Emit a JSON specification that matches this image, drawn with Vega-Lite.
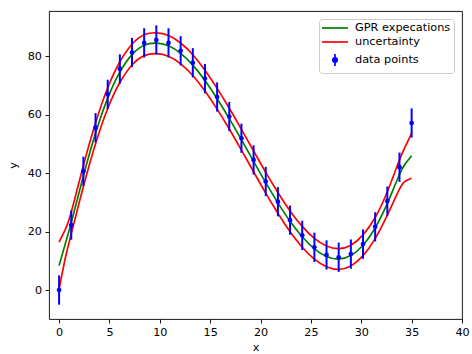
{
  "$schema": "https://vega.github.io/schema/vega-lite/v6.json",
  "width": 413,
  "height": 308,
  "autosize": {"type": "none"},
  "padding": {"left": 49, "top": 11, "right": 10, "bottom": 35},
  "background": "white",
  "datasets": {
    "curve": [
      {"x": 0, "mean": 8.35, "upper": 16.4, "lower": 0.3},
      {"x": 0.6, "mean": 15.6, "upper": 20.6, "lower": 10.6},
      {"x": 1.207, "mean": 23.0, "upper": 26.6, "lower": 19.2},
      {"x": 2.414, "mean": 39.0, "upper": 42.6, "lower": 35.4},
      {"x": 3.621, "mean": 53.6, "upper": 57.15, "lower": 50.05},
      {"x": 4.828, "mean": 65.6, "upper": 69.15, "lower": 62.05},
      {"x": 6.034, "mean": 74.5, "upper": 78.05, "lower": 70.95},
      {"x": 7.241, "mean": 80.5, "upper": 84.05, "lower": 76.95},
      {"x": 8.448, "mean": 83.7, "upper": 87.25, "lower": 80.15},
      {"x": 9.655, "mean": 84.4, "upper": 87.95, "lower": 80.85},
      {"x": 10.862, "mean": 83.5, "upper": 87.05, "lower": 79.95},
      {"x": 12.069, "mean": 80.9, "upper": 84.45, "lower": 77.35},
      {"x": 13.276, "mean": 76.9, "upper": 80.45, "lower": 73.35},
      {"x": 14.483, "mean": 71.6, "upper": 75.15, "lower": 68.05},
      {"x": 15.69, "mean": 65.4, "upper": 68.95, "lower": 61.85},
      {"x": 16.897, "mean": 58.6, "upper": 62.15, "lower": 55.05},
      {"x": 18.103, "mean": 51.4, "upper": 54.95, "lower": 47.85},
      {"x": 19.31, "mean": 44.0, "upper": 47.55, "lower": 40.45},
      {"x": 20.517, "mean": 36.7, "upper": 40.25, "lower": 33.15},
      {"x": 21.724, "mean": 29.8, "upper": 33.35, "lower": 26.25},
      {"x": 22.931, "mean": 23.5, "upper": 27.05, "lower": 19.95},
      {"x": 24.138, "mean": 18.2, "upper": 21.75, "lower": 14.65},
      {"x": 25.345, "mean": 14.1, "upper": 17.65, "lower": 10.55},
      {"x": 26.552, "mean": 11.5, "upper": 15.05, "lower": 7.95},
      {"x": 27.759, "mean": 10.6, "upper": 14.15, "lower": 7.05},
      {"x": 28.966, "mean": 11.8, "upper": 15.35, "lower": 8.25},
      {"x": 30.172, "mean": 15.3, "upper": 18.85, "lower": 11.75},
      {"x": 31.379, "mean": 21.2, "upper": 24.8, "lower": 17.6},
      {"x": 32.586, "mean": 29.6, "upper": 33.6, "lower": 25.6},
      {"x": 33.793, "mean": 39.5, "upper": 44.5, "lower": 34.5},
      {"x": 34.4, "mean": 43.3, "upper": 49.3, "lower": 37.3},
      {"x": 35, "mean": 45.9, "upper": 53.6, "lower": 38.2}
    ],
    "pts": [
      {"x": 0, "y": 0.0, "err": 5},
      {"x": 1.207, "y": 22.2, "err": 5},
      {"x": 2.414, "y": 40.6, "err": 5},
      {"x": 3.621, "y": 55.5, "err": 5},
      {"x": 4.828, "y": 66.9, "err": 5},
      {"x": 6.034, "y": 75.6, "err": 5},
      {"x": 7.241, "y": 81.2, "err": 5},
      {"x": 8.448, "y": 84.5, "err": 5},
      {"x": 9.655, "y": 85.5, "err": 5},
      {"x": 10.862, "y": 84.5, "err": 5},
      {"x": 12.069, "y": 81.8, "err": 5},
      {"x": 13.276, "y": 77.7, "err": 5},
      {"x": 14.483, "y": 72.3, "err": 5},
      {"x": 15.69, "y": 66.0, "err": 5},
      {"x": 16.897, "y": 59.3, "err": 5},
      {"x": 18.103, "y": 51.9, "err": 5},
      {"x": 19.31, "y": 44.5, "err": 5},
      {"x": 20.517, "y": 37.1, "err": 5},
      {"x": 21.724, "y": 30.2, "err": 5},
      {"x": 22.931, "y": 23.9, "err": 5},
      {"x": 24.138, "y": 18.7, "err": 5},
      {"x": 25.345, "y": 14.6, "err": 5},
      {"x": 26.552, "y": 12.0, "err": 5},
      {"x": 27.759, "y": 11.2, "err": 5},
      {"x": 28.966, "y": 12.3, "err": 5},
      {"x": 30.172, "y": 15.7, "err": 5},
      {"x": 31.379, "y": 21.6, "err": 5},
      {"x": 32.586, "y": 30.4, "err": 5},
      {"x": 33.793, "y": 42.0, "err": 5},
      {"x": 35, "y": 57.1, "err": 5}
    ]
  },
  "layer": [
    {
      "data": {"name": "curve"},
      "mark": {"type": "line", "interpolate": "natural", "strokeWidth": 1.7},
      "encoding": {
        "x": {"field": "x", "type": "quantitative", "scale": {"domain": [-1, 40], "nice": false, "zero": false}, "axis": {"values": [0, 5, 10, 15, 20, 25, 30, 35, 40], "title": "x"}},
        "y": {"field": "mean", "type": "quantitative", "scale": {"domain": [-9.9, 95.4], "nice": false, "zero": false}, "axis": {"values": [0, 20, 40, 60, 80], "title": "y"}},
        "color": {
          "datum": "GPR expecations",
          "type": "nominal",
          "scale": {"domain": ["GPR expecations", "uncertainty", "data points"], "range": ["#008000", "#ff0000", "#0000ff"]},
          "legend": {
            "title": null,
            "orient": "top-right",
            "offset": 8,
            "padding": 3,
            "symbolType": "stroke",
            "symbolSize": 100,
            "symbolStrokeWidth": 1.7,
            "rowPadding": 2,
            "labelOffset": 21,
            "labelFontSize": 11.3,
            "labelFont": "DejaVu Sans",
            "labelColor": "black",
            "fillColor": "rgba(255,255,255,0.8)",
            "strokeColor": "#cccccc",
            "cornerRadius": 3,
            "encode": {
              "symbols": {
                "update": {
                  "shape": {"signal": "datum.value === 'data points' ? 'M1.4,-1.2L1.4,1.2M1.84,0A0.44,0.44,0,1,1,0.96,0A0.44,0.44,0,1,1,1.84,0Z' : 'M-1.2,0L4,0'"},
                  "fill": {"signal": "datum.value === 'data points' ? '#0000ff' : 'transparent'"},
                  "stroke": {"scale": "color", "field": "value"},
                  "strokeWidth": {"value": 1.7},
                  "opacity": {"value": 1}
                }
              }
            }
          }
        }
      }
    },
    {
      "data": {"name": "curve"},
      "mark": {"type": "line", "interpolate": "natural", "strokeWidth": 1.7},
      "encoding": {
        "x": {"field": "x", "type": "quantitative"},
        "y": {"field": "upper", "type": "quantitative"},
        "color": {"datum": "uncertainty", "type": "nominal"}
      }
    },
    {
      "data": {"name": "curve"},
      "mark": {"type": "line", "interpolate": "natural", "strokeWidth": 1.7},
      "encoding": {
        "x": {"field": "x", "type": "quantitative"},
        "y": {"field": "lower", "type": "quantitative"},
        "color": {"datum": "uncertainty", "type": "nominal"}
      }
    },
    {
      "data": {"name": "pts"},
      "mark": {"type": "errorbar", "thickness": 2, "rule": {"opacity": 1}},
      "encoding": {
        "x": {"field": "x", "type": "quantitative"},
        "y": {"field": "y", "type": "quantitative"},
        "yError": {"field": "err"},
        "color": {"datum": "data points", "type": "nominal"}
      }
    },
    {
      "data": {"name": "pts"},
      "mark": {"type": "point", "filled": true, "size": 22, "opacity": 1},
      "encoding": {
        "x": {"field": "x", "type": "quantitative"},
        "y": {"field": "y", "type": "quantitative"},
        "color": {"datum": "data points", "type": "nominal"}
      }
    }
  ],
  "config": {
    "font": "DejaVu Sans",
    "view": {"stroke": "black", "strokeWidth": 0.9},
    "axis": {
      "domain": false,
      "grid": false,
      "tickColor": "black",
      "tickWidth": 0.9,
      "tickSize": 4,
      "labelFont": "DejaVu Sans",
      "labelFontSize": 11.2,
      "labelColor": "black",
      "labelPadding": 3.5,
      "labelFlush": false,
      "labelOverlap": false,
      "titleFont": "DejaVu Sans",
      "titleFontSize": 11.2,
      "titleFontWeight": "normal",
      "titleColor": "black"
    },
    "axisX": {"titlePadding": 4},
    "axisY": {"titlePadding": 9}
  }
}
